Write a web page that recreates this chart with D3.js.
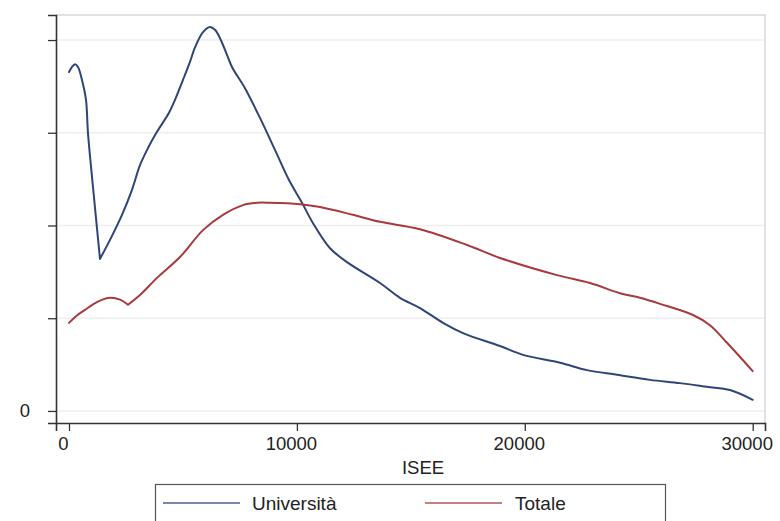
<!DOCTYPE html>
<html>
<head>
<meta charset="utf-8">
<script src="https://cdn.jsdelivr.net/npm/d3@7"></script>
<style>
  html, body { margin: 0; padding: 0; background: #ffffff; }
  svg { display: block; font-family: "Liberation Sans", Arial, sans-serif; }
</style>
</head>
<body>
<svg id="chart" width="780" height="521"></svg>
<script>
// ---- Data (kernel density of ISEE; density values in units of 1e-5) ----
const universitaIsee = [0, 132, 263, 395, 570, 746, 834, 1053, 1360, 1799, 2326, 2764, 3115, 3467, 3861, 4388, 4651, 5002, 5309, 5529, 5880, 6187, 6406, 6626, 6933, 7152, 7723, 8381, 9039, 9654, 10224, 10707, 11453, 12199, 13647, 14524, 15402, 16411, 17289, 18912, 19922, 21545, 22730, 24046, 25494, 26811, 27995, 29004, 30000];
const universitaDensity = [7.31, 7.42, 7.48, 7.42, 7.14, 6.71, 5.99, 4.83, 3.28, 3.69, 4.23, 4.77, 5.30, 5.67, 6.02, 6.43, 6.71, 7.14, 7.53, 7.84, 8.17, 8.28, 8.22, 8.04, 7.68, 7.42, 6.96, 6.32, 5.63, 4.98, 4.49, 4.05, 3.51, 3.21, 2.76, 2.44, 2.22, 1.90, 1.68, 1.40, 1.21, 1.04, 0.88, 0.78, 0.67, 0.60, 0.52, 0.45, 0.24];
const universitaCusps = [8];   // index of sharp minimum

const totaleIsee = [0, 350, 702, 1053, 1360, 1799, 2238, 2589, 3115, 3861, 4871, 5880, 6758, 7635, 8250, 8820, 10136, 11014, 12462, 13647, 15402, 17464, 18912, 21413, 22861, 24178, 25055, 25933, 27381, 28127, 28873, 30000];
const totaleDensity = [1.90, 2.06, 2.18, 2.30, 2.38, 2.44, 2.40, 2.29, 2.50, 2.87, 3.32, 3.90, 4.23, 4.44, 4.49, 4.49, 4.46, 4.40, 4.23, 4.08, 3.92, 3.58, 3.30, 2.93, 2.76, 2.54, 2.44, 2.31, 2.07, 1.85, 1.47, 0.86];
const totaleCusps = [7];

const xTicks = [0, 10000, 20000, 30000];
const yTicks = [0, 2, 4, 6, 8];
const yTickLabels = ["0", "", "", "", ""];
const seriesNames = ["Università", "Totale"];
const seriesColors = ["#2f4577", "#a8393d"];
const xTitle = "ISEE";

// ---- Layout ----
const svg = d3.select("#chart");
const plot = { left: 56, right: 765, top: 15, bottom: 423 };

const x = d3.scaleLinear().domain([-570, 30540]).range([plot.left, plot.right]);
const y = d3.scaleLinear().domain([-0.26, 8.54]).range([plot.bottom, plot.top]);

// grid lines
svg.append("g").selectAll("line").data(yTicks).join("line")
  .attr("x1", plot.left).attr("x2", plot.right)
  .attr("y1", d => y(d)).attr("y2", d => y(d))
  .attr("stroke", "#eeeeee").attr("stroke-width", 1.5);

// top & right frame (light)
svg.append("path")
  .attr("d", `M${plot.left},${plot.top}H${plot.right}V${plot.bottom}`)
  .attr("fill", "none").attr("stroke", "#d8d8d8").attr("stroke-width", 1.5);

// curves (smooth pieces, sharp at cusp minima)
const series = [
  { xs: universitaIsee, ys: universitaDensity, cusps: universitaCusps },
  { xs: totaleIsee, ys: totaleDensity, cusps: totaleCusps }
];
const line = d3.line().x(d => x(d[0])).y(d => y(d[1])).curve(d3.curveCatmullRom.alpha(0.5));
series.forEach((s, i) => {
  const pts = s.xs.map((v, j) => [v, s.ys[j]]);
  const bounds = [0, ...s.cusps, pts.length - 1];
  let d = "";
  for (let k = 0; k < bounds.length - 1; k++) {
    d += line(pts.slice(bounds[k], bounds[k + 1] + 1));
  }
  svg.append("path")
    .attr("d", d)
    .attr("fill", "none")
    .attr("stroke", seriesColors[i])
    .attr("stroke-width", 2)
    .attr("stroke-linejoin", "round")
    .attr("stroke-linecap", "round");
});

// y axis
const yAxis = d3.axisLeft(y).tickValues(yTicks)
  .tickFormat((d, i) => yTickLabels[i]).tickSize(8).tickPadding(18);
const gy = svg.append("g").attr("transform", `translate(${plot.left},0)`).call(yAxis);
gy.select(".domain").attr("stroke", "#333333").attr("stroke-width", 1.6);
gy.selectAll(".tick line").attr("stroke", "#333333").attr("stroke-width", 1.3);
gy.selectAll(".tick text").attr("font-size", 18.5).attr("fill", "#222222")
  .attr("font-family", "Liberation Sans, Arial, sans-serif");

// x axis
const xAxis = d3.axisBottom(x).tickValues(xTicks).tickFormat(d3.format("d"))
  .tickSize(8).tickPadding(6);
const gx = svg.append("g").attr("transform", `translate(0,${plot.bottom})`).call(xAxis);
gx.select(".domain").attr("stroke", "#333333").attr("stroke-width", 1.6);
gx.selectAll(".tick line").attr("stroke", "#333333").attr("stroke-width", 1.3);
gx.selectAll(".tick text").attr("font-size", 18.5).attr("fill", "#222222")
  .attr("dx", -6)
  .attr("font-family", "Liberation Sans, Arial, sans-serif");

// x title
svg.append("text")
  .attr("x", 423).attr("y", 473.5)
  .attr("text-anchor", "middle")
  .attr("font-size", 18.5).attr("fill", "#222222")
  .text(xTitle);

// legend
const lg = svg.append("g");
lg.append("rect")
  .attr("x", 155.5).attr("y", 484.5).attr("width", 510).attr("height", 50)
  .attr("fill", "#ffffff").attr("stroke", "#555555").attr("stroke-width", 1.2);
const legendItems = [
  { x1: 163, x2: 240, tx: 252 },
  { x1: 425, x2: 502, tx: 515 }
];
legendItems.forEach((it, i) => {
  lg.append("line")
    .attr("x1", it.x1).attr("x2", it.x2).attr("y1", 503).attr("y2", 503)
    .attr("stroke", seriesColors[i]).attr("stroke-width", 1.6).attr("opacity", 0.85);
  lg.append("text")
    .attr("x", it.tx).attr("y", 510)
    .attr("font-size", 19).attr("fill", "#222222")
    .text(seriesNames[i]);
});
</script>
</body>
</html>
